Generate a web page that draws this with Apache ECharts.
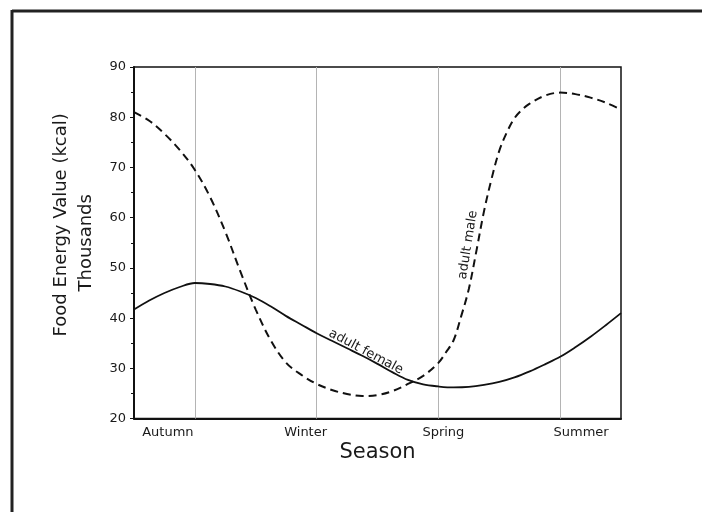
<!DOCTYPE html>
<html><head><meta charset="utf-8">
<script src="https://cdn.jsdelivr.net/npm/echarts@6/dist/echarts.min.js"></script>
<style>html,body{margin:0;padding:0;background:#fff}#c{width:702px;height:512px}</style>
</head><body><div id="c"></div>
<script>
// ---- data ----
const seasons = ['Autumn', 'Winter', 'Spring', 'Summer'];
const seasonPos = [0, 1, 2, 3];
const yMin = 20, yMax = 90, yStep = 10;
const xMin = -0.5, xMax = 3.5;

const femaleX = [-0.5, -0.375, -0.25, -0.125, 0, 0.125, 0.25, 0.375, 0.5, 0.625, 0.75, 0.875, 1, 1.125, 1.25, 1.375, 1.5,
                 1.625, 1.75, 1.875, 2, 2.125, 2.25, 2.375, 2.5, 2.625, 2.75, 2.875, 3, 3.125, 3.25, 3.375, 3.5];
const femaleY = [41.7, 43.5, 45.0, 46.2, 47.0, 46.8, 46.3, 45.3, 44.0, 42.3, 40.4, 38.7, 37.0, 35.5, 34.0, 32.5, 30.9,
                 29.2, 27.7, 26.8, 26.4, 26.2, 26.3, 26.7, 27.3, 28.2, 29.4, 30.8, 32.3, 34.2, 36.3, 38.6, 41.0];

const maleX = [-0.5, -0.375, -0.25, -0.125, 0, 0.125, 0.25, 0.375, 0.5, 0.625, 0.75, 0.875, 1, 1.125, 1.25, 1.375, 1.5,
               1.625, 1.75, 1.875, 2, 2.0625, 2.125, 2.1875, 2.25, 2.3125, 2.375, 2.4375, 2.5, 2.5625, 2.625, 2.6875, 2.75,
               2.875, 3, 3.125, 3.25, 3.375, 3.5];
const maleY = [81.0, 79.3, 76.7, 73.5, 69.5, 64.1, 57.2, 49.2, 41.7, 35.5, 31.1, 28.7, 26.9, 25.7, 24.9, 24.5, 24.7,
               25.5, 26.9, 28.5, 31.1, 33.2, 35.6, 40.4, 45.8, 53.4, 61.3, 67.8, 73.3, 77.0, 79.8, 81.5, 82.7,
               84.3, 84.9, 84.6, 83.9, 82.9, 81.5];

const seriesNames = ['adult female', 'adult male'];
const femaleLabelAt = [1.405, 33.3];
const maleLabelAt = [2.243, 54.6];

// ---- chart ----
const FONT = 'DejaVu Sans';
const INK = '#1a1a1a';
const chart = echarts.init(document.getElementById('c'), null, {renderer: 'canvas'});

const option = {
  backgroundColor: '#ffffff',
  animation: false,
  graphic: [
    {type: 'line', shape: {x1: 12, y1: 11, x2: 702, y2: 11}, style: {stroke: '#222', lineWidth: 3}, silent: true},
    {type: 'line', shape: {x1: 12, y1: 10, x2: 12, y2: 512}, style: {stroke: '#222', lineWidth: 3}, silent: true}
  ],
  grid: [
    {left: 134, right: 81, top: 67, bottom: 93.4, show: true, borderColor: '#111', borderWidth: 1.5, backgroundColor: 'transparent'},
    {left: 99, right: 52, top: 67, bottom: 93.4, show: false}
  ],
  xAxis: [
    {
      type: 'value', gridIndex: 0, min: xMin, max: xMax,
      name: 'Season', nameLocation: 'middle', nameGap: 23,
      nameTextStyle: {fontFamily: FONT, fontSize: 21, color: INK},
      axisLine: {show: true, onZero: false, lineStyle: {color: '#111', width: 2}},
      axisTick: {show: false}, axisLabel: {show: false}, splitLine: {show: false}
    },
    {
      type: 'category', gridIndex: 1, data: seasons, boundaryGap: true,
      axisLine: {show: false}, axisTick: {show: false}, splitLine: {show: false},
      axisLabel: {fontFamily: FONT, fontSize: 13, color: INK, margin: 8}
    }
  ],
  yAxis: [
    {
      type: 'value', gridIndex: 0, min: yMin, max: yMax, interval: yStep,
      name: '{a|Food Energy Value (kcal)}\n{b|Thousands}',
      nameLocation: 'middle', nameRotate: 90, nameGap: 34,
      nameTextStyle: {
        fontFamily: FONT, fontSize: 18, color: INK, lineHeight: 25,
        rich: {
          a: {fontFamily: FONT, fontSize: 18, color: INK, lineHeight: 25, padding: [0, 0, 0, 36]},
          b: {fontFamily: FONT, fontSize: 18, color: INK, lineHeight: 25}
        }
      },
      axisLine: {show: true, onZero: false, lineStyle: {color: '#111', width: 2}},
      axisTick: {show: true, inside: false, length: 4, lineStyle: {color: '#111', width: 1}},
      minorTick: {show: true, splitNumber: 2, length: 3, lineStyle: {color: '#111', width: 1}},
      axisLabel: {fontFamily: FONT, fontSize: 13, color: INK, margin: 8},
      splitLine: {show: false}, minorSplitLine: {show: false}
    },
    {type: 'value', gridIndex: 1, min: 0, max: 1, show: false}
  ],
  series: [
    {
      name: seriesNames[0], type: 'line', xAxisIndex: 0, yAxisIndex: 0,
      data: femaleX.map((x, i) => [x, femaleY[i]]),
      smooth: 0.35, showSymbol: false, symbol: 'none', z: 3,
      lineStyle: {color: '#111', width: 1.8, type: 'solid'},
      markLine: {
        silent: true, symbol: 'none', animation: false, z: 1,
        label: {show: false},
        lineStyle: {color: '#b4b4b4', width: 1, type: 'solid'},
        data: seasonPos.map(v => ({xAxis: v}))
      },
      markPoint: {
        silent: true, symbol: 'circle', symbolSize: 0,
        label: {show: true, position: 'inside', formatter: seriesNames[0], rotate: -28,
                fontFamily: FONT, fontSize: 13, color: INK},
        data: [{coord: femaleLabelAt}]
      }
    },
    {
      name: seriesNames[1], type: 'line', xAxisIndex: 0, yAxisIndex: 0,
      data: maleX.map((x, i) => [x, maleY[i]]),
      smooth: 0.35, showSymbol: false, symbol: 'none', z: 3,
      lineStyle: {color: '#111', width: 2, type: [8, 5]},
      markPoint: {
        silent: true, symbol: 'circle', symbolSize: 0,
        label: {show: true, position: 'inside', formatter: seriesNames[1], rotate: 81,
                fontFamily: FONT, fontSize: 13, color: INK},
        data: [{coord: maleLabelAt}]
      }
    }
  ]
};
chart.setOption(option);
</script>
</body></html>
